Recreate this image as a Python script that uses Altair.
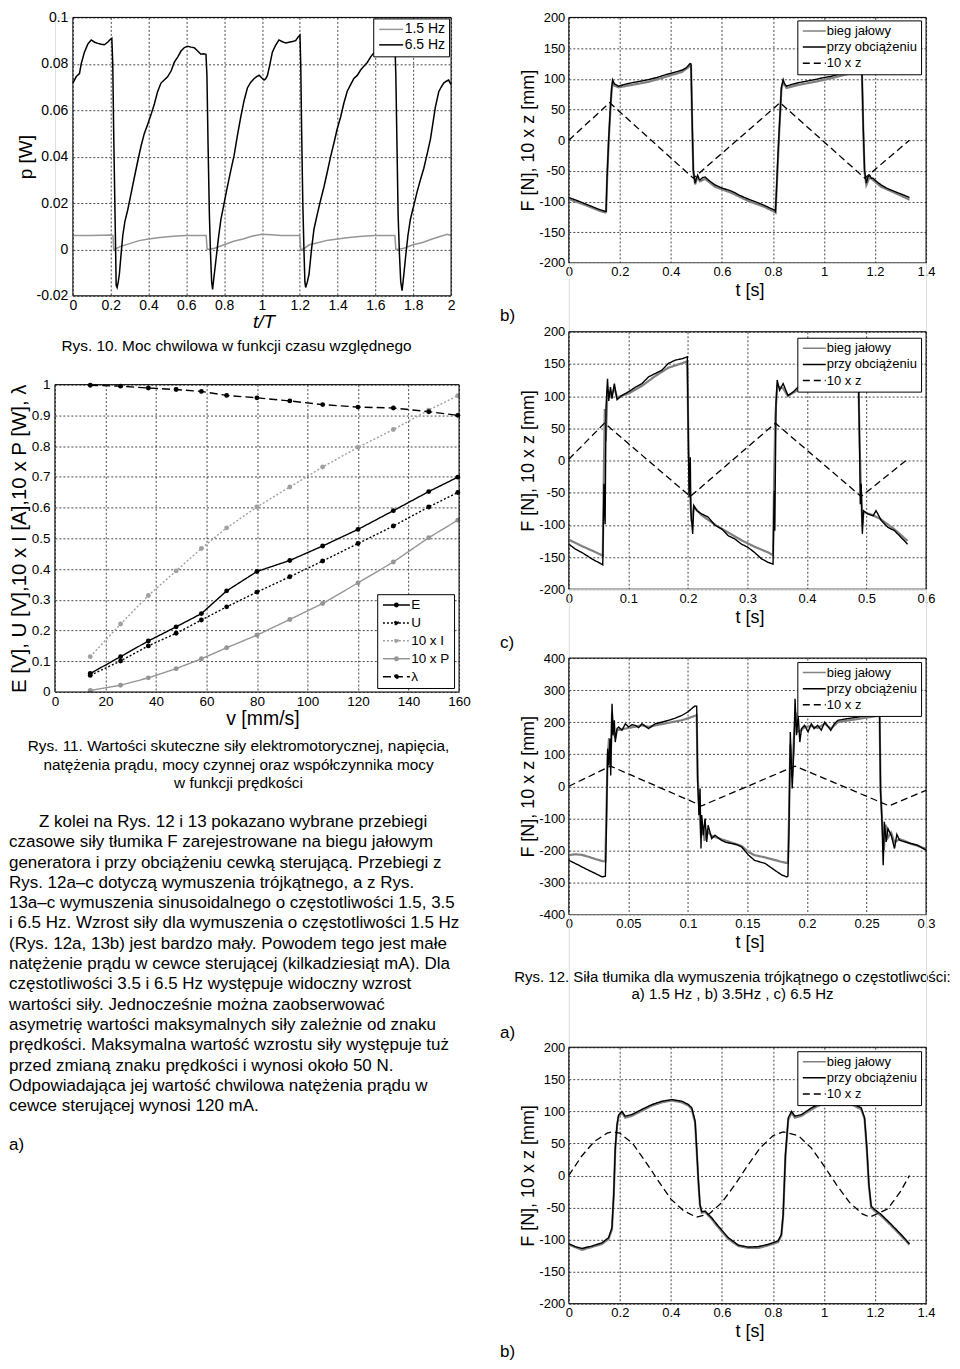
import altair as alt
import pandas as pd

FONT = "Liberation Sans"
GRID_COLOR = "#333333"

# ================= Rys. 10 : p [W] vs t/T =================
P_X_TICKS = [0, 0.2, 0.4, 0.6, 0.8, 1, 1.2, 1.4, 1.6, 1.8, 2]
P_Y_TICKS = [-0.02, 0, 0.02, 0.04, 0.06, 0.08, 0.1]
P_NAMES = ["1.5 Hz", "6.5 Hz"]
P_COLORS = ["#969696", "#000000"]
P_15HZ = [(0.0, 0.006), (0.1, 0.006), (0.2, 0.0062), (0.212, 0.006), (0.216, 0.0), (0.225, 0.0002),
          (0.25, 0.0012), (0.3, 0.0025), (0.35, 0.0038), (0.4, 0.0045), (0.45, 0.005), (0.5, 0.0055),
          (0.55, 0.0058), (0.6, 0.006), (0.65, 0.006), (0.705, 0.006), (0.71, 0.0), (0.73, 0.0002),
          (0.75, 0.0005), (0.8, 0.002), (0.85, 0.0035), (0.9, 0.0045), (0.95, 0.0058), (1.0, 0.0065),
          (1.05, 0.0063), (1.1, 0.006), (1.15, 0.006), (1.2, 0.006), (1.205, 0.0), (1.22, 0.0002),
          (1.25, 0.002), (1.3, 0.003), (1.35, 0.004), (1.4, 0.0045), (1.45, 0.005), (1.5, 0.0055),
          (1.55, 0.0058), (1.6, 0.006), (1.65, 0.006), (1.703, 0.006), (1.708, 0.0), (1.73, 0.0002),
          (1.75, 0.0005), (1.8, 0.002), (1.85, 0.003), (1.9, 0.0045), (1.95, 0.0058), (1.98, 0.0065),
          (2.0, 0.006)]
P_65HZ = [(0.0, 0.0717), (0.018, 0.0745), (0.035, 0.0758), (0.044, 0.080), (0.061, 0.085), (0.079, 0.0885),
          (0.097, 0.0903), (0.115, 0.0893), (0.132, 0.0888), (0.15, 0.0884), (0.167, 0.0882), (0.185, 0.0894),
          (0.196, 0.0903), (0.206, 0.0910), (0.211, 0.080), (0.216, 0.050), (0.222, 0.020), (0.226, 0.000),
          (0.229, -0.0155), (0.234, -0.0164), (0.240, -0.0140), (0.246, -0.0106), (0.255, -0.002),
          (0.264, 0.006), (0.275, 0.012), (0.290, 0.017), (0.305, 0.023), (0.325, 0.031), (0.343, 0.038),
          (0.361, 0.0447), (0.378, 0.050), (0.396, 0.054), (0.413, 0.058), (0.431, 0.0627), (0.448, 0.068),
          (0.466, 0.0717), (0.483, 0.0730), (0.501, 0.0744), (0.520, 0.0770), (0.536, 0.0806), (0.555, 0.0830),
          (0.572, 0.0855), (0.590, 0.0870), (0.607, 0.0876), (0.625, 0.0872), (0.642, 0.0869), (0.660, 0.0855),
          (0.677, 0.0841), (0.690, 0.0843), (0.704, 0.0841), (0.709, 0.075), (0.715, 0.045), (0.722, 0.015),
          (0.728, -0.002), (0.734, -0.014), (0.739, -0.0172), (0.746, -0.012), (0.756, -0.005), (0.770, 0.005),
          (0.783, 0.013), (0.800, 0.020), (0.818, 0.0274), (0.835, 0.034), (0.853, 0.0406), (0.870, 0.049),
          (0.888, 0.0571), (0.905, 0.064), (0.923, 0.0696), (0.940, 0.0720), (0.959, 0.0737), (0.972, 0.0745),
          (0.985, 0.0751), (0.998, 0.0740), (1.011, 0.0730), (1.020, 0.0736), (1.029, 0.0750), (1.040, 0.0790),
          (1.055, 0.0850), (1.072, 0.0880), (1.090, 0.0903), (1.108, 0.0895), (1.126, 0.0890), (1.143, 0.0893),
          (1.161, 0.0896), (1.178, 0.0900), (1.193, 0.0917), (1.201, 0.0924), (1.205, 0.080), (1.210, 0.050),
          (1.216, 0.020), (1.222, 0.000), (1.227, -0.014), (1.231, -0.0164), (1.240, -0.014), (1.249, -0.0106),
          (1.262, 0.000), (1.275, 0.0087), (1.292, 0.015), (1.310, 0.0212), (1.328, 0.027), (1.346, 0.0336),
          (1.363, 0.040), (1.381, 0.046), (1.398, 0.052), (1.416, 0.0571), (1.433, 0.063), (1.451, 0.0682),
          (1.469, 0.071), (1.486, 0.0737), (1.504, 0.075), (1.521, 0.0772), (1.539, 0.079), (1.557, 0.0806),
          (1.575, 0.083), (1.592, 0.0848), (1.610, 0.086), (1.627, 0.087), (1.650, 0.088), (1.675, 0.089),
          (1.695, 0.090), (1.703, 0.089), (1.708, 0.075), (1.714, 0.045), (1.720, 0.015), (1.727, -0.002),
          (1.734, -0.014), (1.741, -0.0178), (1.750, -0.011), (1.759, -0.0037), (1.772, 0.006), (1.785, 0.013),
          (1.803, 0.019), (1.821, 0.025), (1.838, 0.030), (1.856, 0.035), (1.873, 0.041), (1.891, 0.0475),
          (1.905, 0.055), (1.917, 0.0613), (1.935, 0.068), (1.948, 0.070), (1.961, 0.0717), (1.975, 0.0725),
          (1.987, 0.0730), (2.0, 0.0710)]

# ================= Rys. 11 : RMS values vs speed =================
V_X_TICKS = [0, 20, 40, 60, 80, 100, 120, 140, 160]
V_Y_TICKS = [0, 0.1, 0.2, 0.3, 0.4, 0.5, 0.6, 0.7, 0.8, 0.9, 1]
V_SPEED = [14, 26, 37, 48, 58, 68, 80, 93, 106, 120, 134, 148, 159.5]
V_E = [0.06, 0.115, 0.166, 0.212, 0.255, 0.329, 0.392, 0.428, 0.475, 0.529, 0.59, 0.652, 0.699]
V_U = [0.054, 0.101, 0.15, 0.191, 0.234, 0.277, 0.325, 0.375, 0.426, 0.483, 0.54, 0.602, 0.649]
V_I10 = [0.115, 0.221, 0.314, 0.394, 0.467, 0.534, 0.602, 0.667, 0.732, 0.796, 0.854, 0.917, 0.964]
V_P10 = [0.005, 0.022, 0.046, 0.076, 0.108, 0.144, 0.185, 0.236, 0.288, 0.355, 0.423, 0.502, 0.559]
V_LAMBDA = [0.998, 0.995, 0.989, 0.984, 0.978, 0.965, 0.957, 0.947, 0.935, 0.927, 0.924, 0.912, 0.9]
V_NAMES = ["E", "U", "10 x I", "10 x P", "λ"]
V_COLORS = ["#000000", "#000000", "#a0a0a0", "#959595", "#000000"]
V_DASH = [[1, 0], [2, 2], [2, 2], [1, 0], [8, 4]]

# ================= Rys. 12 / 13 : damper force =================
F_NAMES = ["bieg jałowy", "przy obciążeniu", "10 x z"]
F_COLORS = ["#808080", "#000000", "#000000"]
F_DASH = [[1, 0], [1, 0], [7, 4]]
F_Y_TICKS = [-200, -150, -100, -50, 0, 50, 100, 150, 200]
F_Y_TICKS_C = [-400, -300, -200, -100, 0, 100, 200, 300, 400]
T_TICKS_14 = [0, 0.2, 0.4, 0.6, 0.8, 1, 1.2, 1.4]
T_TICKS_06 = [0, 0.1, 0.2, 0.3, 0.4, 0.5, 0.6]
T_TICKS_03 = [0, 0.05, 0.1, 0.15, 0.2, 0.25, 0.3]

A_LOAD = [(0, -93.5), (0.03, -98), (0.06, -103), (0.09, -108), (0.12, -113), (0.143, -116), (0.146, -116),
          (0.150, -60), (0.156, 0), (0.163, 54), (0.168, 85), (0.172, 98), (0.178, 92), (0.182, 91),
          (0.195, 88), (0.22, 91), (0.247, 93.5), (0.28, 96), (0.313, 98.7), (0.345, 102), (0.378, 106.5),
          (0.41, 110), (0.443, 114), (0.46, 118), (0.469, 122), (0.475, 124.7), (0.479, 124), (0.484, 20),
          (0.488, -49), (0.495, -70), (0.500, -62), (0.505, -57), (0.51, -63), (0.514, -65), (0.524, -61),
          (0.534, -60), (0.55, -66), (0.573, -73), (0.6, -78), (0.638, -83), (0.67, -90), (0.703, -96),
          (0.735, -101), (0.768, -106.5), (0.79, -111), (0.807, -114), (0.81, -116), (0.814, -80),
          (0.819, -30), (0.824, 13), (0.83, 60), (0.833, 86), (0.84, 98.7), (0.845, 92), (0.853, 88),
          (0.875, 91), (0.899, 93.5), (0.93, 96), (0.964, 98.7), (1.0, 102), (1.029, 104), (1.06, 108),
          (1.094, 111.7), (1.12, 115), (1.133, 117), (1.146, 119.5), (1.149, 110), (1.154, 20), (1.159, -49),
          (1.166, -70), (1.172, -60), (1.179, -57), (1.185, -62), (1.192, -62), (1.205, -67), (1.224, -73),
          (1.25, -79), (1.289, -85.7), (1.31, -89), (1.335, -93.5)]
A_IDLE = [(0, -96), (0.06, -105), (0.12, -115), (0.143, -118), (0.146, -117), (0.15, -64), (0.156, -5),
          (0.163, 50), (0.168, 82), (0.172, 95), (0.178, 89), (0.195, 86), (0.247, 90), (0.313, 95),
          (0.378, 103), (0.443, 111), (0.469, 119), (0.475, 122), (0.479, 121), (0.484, 15), (0.488, -52),
          (0.495, -72), (0.505, -60), (0.514, -67), (0.534, -63), (0.573, -76), (0.638, -86), (0.703, -99),
          (0.768, -109), (0.807, -117), (0.81, -118), (0.814, -84), (0.824, 8), (0.833, 82), (0.84, 95),
          (0.853, 85), (0.899, 90), (0.964, 95), (1.029, 101), (1.094, 108), (1.133, 114), (1.146, 117),
          (1.149, 105), (1.154, 15), (1.159, -52), (1.166, -73), (1.179, -60), (1.192, -65), (1.224, -76),
          (1.289, -88), (1.335, -97)]
A_Z = [(0, 0), (0.16, 61), (0.488, -62), (0.828, 61), (1.16, -62), (1.335, 0)]

B_LOAD = [(0, -130), (0.011, -137.7), (0.022, -143), (0.039, -153), (0.053, -160), (0.057, -162),
          (0.059, -36), (0.061, -99), (0.0625, 83), (0.065, 127), (0.067, 92.5), (0.07, 114), (0.0725, 96),
          (0.0765, 119.5), (0.081, 94.5), (0.089, 101), (0.1, 106.5), (0.112, 114), (0.123, 119.5),
          (0.134, 130), (0.145, 135), (0.156, 140), (0.167, 150.6), (0.179, 156), (0.19, 158), (0.199, 161),
          (0.201, 15.6), (0.202, -57), (0.204, 5), (0.205, -78), (0.208, -114), (0.21, -70), (0.215, -78),
          (0.223, -83), (0.234, -88), (0.246, -101), (0.257, -106.5), (0.268, -117), (0.279, -122),
          (0.29, -130), (0.301, -135), (0.312, -143), (0.324, -153), (0.335, -158.5), (0.343, -161),
          (0.345, -47), (0.346, -109), (0.348, 88), (0.35, 125), (0.354, 109), (0.36, 119.5), (0.368, 101),
          (0.377, 106.5), (0.385, 114), (0.4, 120), (0.42, 128), (0.44, 136), (0.46, 144), (0.475, 150),
          (0.486, 155), (0.4885, 15.6), (0.4895, -68), (0.491, -36), (0.493, -114), (0.495, -78),
          (0.502, -83), (0.511, -86), (0.516, -78), (0.525, -93.5), (0.536, -104), (0.547, -109),
          (0.558, -119.5), (0.569, -130)]
B_IDLE = [(0, -123), (0.011, -128), (0.022, -133), (0.039, -140), (0.053, -146), (0.057, -148), (0.059, -10),
          (0.0605, 80), (0.062, 30), (0.065, 110), (0.07, 100), (0.0765, 112), (0.081, 98), (0.1, 104),
          (0.123, 116), (0.145, 131), (0.167, 144), (0.19, 151), (0.199, 154), (0.201, 20), (0.203, -40),
          (0.206, -95), (0.21, -72), (0.223, -85), (0.246, -100), (0.268, -112), (0.29, -124), (0.312, -134),
          (0.335, -143), (0.343, -147), (0.345, -20), (0.347, 70), (0.35, 115), (0.36, 112), (0.368, 100),
          (0.385, 110), (0.44, 132), (0.486, 150), (0.4885, 20), (0.4905, -40), (0.493, -100), (0.495, -80),
          (0.511, -85), (0.525, -92), (0.547, -107), (0.569, -125)]
B_Z = [(0, 2), (0.06, 58), (0.204, -56), (0.347, 58), (0.491, -56), (0.569, 2)]

C_LOAD = [(0, -231), (0.0056, -241), (0.011, -251.5), (0.0167, -262), (0.0223, -272), (0.028, -282.6),
          (0.0307, -280.5), (0.0315, -142), (0.0326, 117), (0.0335, 65), (0.0346, 148.5), (0.0352, 34),
          (0.0363, 257.6), (0.0371, 159), (0.0382, 205.7), (0.039, 138), (0.0405, 180), (0.0419, 185),
          (0.0446, 174.5), (0.0475, 195), (0.0502, 185), (0.053, 192), (0.0558, 190), (0.0586, 183),
          (0.0614, 195), (0.064, 188), (0.067, 180), (0.0725, 195), (0.078, 200), (0.0837, 205.7),
          (0.089, 212), (0.0949, 221), (0.1, 232), (0.104, 245), (0.106, 250.4), (0.1074, 250),
          (0.1082, 13.5), (0.1093, -90), (0.1102, -7), (0.111, -194), (0.1116, -90), (0.113, -152.6),
          (0.1144, -100.8), (0.1158, -173.5), (0.117, -121.6), (0.12, -163), (0.1228, -152.6), (0.128, -168),
          (0.132, -175), (0.137, -178.7), (0.141, -182), (0.145, -189), (0.151, -215), (0.156, -231),
          (0.165, -241), (0.173, -262), (0.179, -277), (0.183, -282.6), (0.184, -280), (0.1848, -152.6),
          (0.186, 169), (0.1876, -7), (0.189, 117), (0.19, 273), (0.1912, 159), (0.1926, 221), (0.194, 138),
          (0.1954, 180), (0.198, 190), (0.2009, 170), (0.2037, 195), (0.206, 180), (0.209, 190),
          (0.212, 175), (0.2149, 200), (0.218, 185), (0.22, 174.5), (0.223, 195), (0.226, 205.7),
          (0.234, 211), (0.243, 216), (0.251, 221), (0.261, 226.5), (0.2618, -17.7), (0.263, -111),
          (0.264, -246), (0.265, -111), (0.2665, -173.5), (0.268, -132), (0.2707, -152.6), (0.2735, -194),
          (0.2755, -150), (0.2777, -168), (0.282, -173.5), (0.2875, -178.7), (0.293, -184), (0.3, -199.5)]
C_IDLE = [(0, -215), (0.005, -212), (0.011, -214), (0.0167, -220), (0.0223, -227), (0.028, -233),
          (0.0307, -235), (0.0315, -100), (0.0326, 90), (0.0338, 150), (0.035, 60), (0.0363, 230),
          (0.0375, 170), (0.039, 150), (0.0405, 175), (0.0446, 178), (0.0502, 182), (0.0558, 186),
          (0.0614, 190), (0.067, 185), (0.0725, 190), (0.0837, 198), (0.0949, 206), (0.1, 212), (0.106, 220),
          (0.1074, 222), (0.1082, 30), (0.1095, -60), (0.111, -160), (0.1125, -120), (0.114, -170),
          (0.116, -140), (0.12, -155), (0.128, -165), (0.137, -176), (0.145, -186), (0.151, -205),
          (0.156, -215), (0.165, -222), (0.173, -230), (0.179, -236), (0.184, -240), (0.1848, -120),
          (0.186, 130), (0.1876, 30), (0.189, 150), (0.1905, 230), (0.192, 170), (0.1954, 175), (0.198, 185),
          (0.2037, 188), (0.209, 182), (0.2149, 195), (0.22, 180), (0.226, 200), (0.234, 205), (0.243, 210),
          (0.251, 215), (0.261, 220), (0.2618, -10), (0.263, -100), (0.2645, -200), (0.266, -120),
          (0.268, -160), (0.2707, -145), (0.2735, -175), (0.2777, -165), (0.282, -170), (0.2875, -180),
          (0.293, -186), (0.3, -195)]
C_Z = [(0, 0), (0.035, 63), (0.1116, -61), (0.19, 63), (0.269, -61), (0.3, -12.5)]

S_LOAD = [(0, -106.5), (0.026, -111), (0.052, -113.8), (0.091, -110), (0.13, -105), (0.156, -97),
          (0.169, -81.6), (0.176, -29.6), (0.182, 43), (0.189, 79.5), (0.195, 94), (0.208, 100),
          (0.221, 92.5), (0.247, 95), (0.286, 103), (0.326, 110.6), (0.365, 115.8), (0.404, 118.4),
          (0.443, 115.8), (0.469, 110.6), (0.482, 105.5), (0.495, 84.7), (0.501, 43), (0.508, -9),
          (0.514, -45), (0.521, -56.6), (0.534, -55.6), (0.56, -66), (0.586, -79), (0.625, -97),
          (0.664, -108.6), (0.703, -111.7), (0.742, -111), (0.781, -107.5), (0.82, -102), (0.833, -92),
          (0.84, -60.8), (0.849, 32.7), (0.86, 89.9), (0.873, 100), (0.886, 92.5), (0.912, 95),
          (0.951, 105.5), (0.99, 113), (1.029, 114), (1.068, 113), (1.107, 113), (1.146, 105.5), (1.159, 90),
          (1.168, 43), (1.176, -14), (1.185, -47.8), (1.198, -53), (1.224, -60.8), (1.263, -76),
          (1.302, -92), (1.335, -106.5)]
S_IDLE = [(0, -108), (0.052, -116), (0.13, -107), (0.156, -99), (0.169, -84), (0.176, -33), (0.182, 40),
          (0.189, 77), (0.195, 92), (0.208, 98), (0.221, 90), (0.247, 93), (0.286, 101), (0.326, 109),
          (0.365, 114), (0.404, 117), (0.443, 114), (0.469, 109), (0.482, 103), (0.495, 82), (0.501, 40),
          (0.508, -12), (0.514, -47), (0.521, -58), (0.534, -57), (0.56, -68), (0.586, -81), (0.625, -99),
          (0.664, -110), (0.703, -113), (0.742, -113), (0.781, -109), (0.82, -104), (0.833, -94), (0.84, -63),
          (0.849, 30), (0.86, 87), (0.873, 98), (0.886, 90), (0.912, 93), (0.951, 103), (0.99, 111),
          (1.029, 112), (1.068, 111), (1.107, 111), (1.146, 103), (1.159, 88), (1.168, 40), (1.176, -16),
          (1.185, -50), (1.198, -55), (1.224, -63), (1.263, -78), (1.302, -94), (1.335, -108)]
S_Z = [(0, 0), (0.05, 30), (0.1, 53), (0.15, 66), (0.17, 68), (0.2, 66), (0.25, 50), (0.3, 22), (0.35, -8),
       (0.4, -37), (0.45, -55), (0.5, -65), (0.55, -60), (0.6, -42), (0.65, -15), (0.7, 15), (0.75, 43),
       (0.8, 62), (0.84, 68), (0.9, 62), (0.95, 43), (1.0, 15), (1.05, -15), (1.1, -42), (1.15, -60),
       (1.18, -65), (1.25, -52), (1.3, -25), (1.335, 0)]

# ================= texts =================
CAP_10 = "Rys. 10. Moc chwilowa w funkcji czasu względnego"
CAP_11 = ["Rys. 11. Wartości skuteczne siły elektromotorycznej, napięcia,",
          "natężenia prądu, mocy czynnej  oraz współczynnika mocy",
          "w funkcji prędkości"]
PARAGRAPH = ["Z kolei na Rys. 12 i 13 pokazano wybrane przebiegi",
             "czasowe siły tłumika F zarejestrowane na biegu jałowym",
             "generatora i przy obciążeniu cewką sterującą. Przebiegi z",
             "Rys. 12a–c dotyczą wymuszenia trójkątnego, a z Rys.",
             "13a–c wymuszenia sinusoidalnego o częstotliwości 1.5, 3.5",
             "i 6.5 Hz. Wzrost siły dla wymuszenia o częstotliwości 1.5 Hz",
             "(Rys. 12a, 13b) jest bardzo mały. Powodem tego jest małe",
             "natężenie prądu w cewce sterującej (kilkadziesiąt mA). Dla",
             "częstotliwości 3.5  i 6.5 Hz występuje widoczny wzrost",
             "wartości siły.  Jednocześnie można zaobserwować",
             "asymetrię wartości maksymalnych siły zależnie od znaku",
             "prędkości. Maksymalna wartość wzrostu siły występuje tuż",
             "przed zmianą znaku prędkości  i wynosi około 50 N.",
             "Odpowiadająca jej wartość chwilowa natężenia prądu w",
             "cewce sterującej wynosi 120 mA."]
CAP_12 = ["Rys. 12. Siła tłumika dla wymuszenia trójkątnego o częstotliwości:",
          "a) 1.5 Hz , b) 3.5Hz , c) 6.5 Hz"]

ONE = pd.DataFrame({"k": [0]})


def pairs_df(pairs, name):
    return pd.DataFrame({"x": [p[0] for p in pairs], "y": [p[1] for p in pairs], "s": name})


def mk_axis(values, title, label_size, title_size, label_pad, title_x, title_y, vertical,
            offset=None, title_style="normal"):
    kw = dict(values=values, tickCount=len(values) + 2, title=title, labelExpr="'' + datum.value",
              labelFontSize=label_size, titleFontSize=title_size, labelPadding=label_pad, titleX=title_x,
              titleY=title_y, titleBaseline="middle", titleAngle=270 if vertical else 0,
              titleFontStyle=title_style, grid=True, gridColor=GRID_COLOR, gridDash=[2, 2], gridWidth=0.9,
              ticks=False, tickSize=0, domain=False, labelFlush=False, labelOverlap=False, labelFont=FONT,
              titleFont=FONT, labelColor="black", titleColor="black", titleFontWeight="normal")
    if offset is not None:
        kw["offset"] = offset
    return alt.Axis(**kw)


def frame(x0, x1, y0, y1):
    return alt.Chart(ONE).mark_rect(fill="transparent", stroke="black", strokeWidth=1).encode(
        x=alt.datum(x0), x2=alt.datum(x1), y=alt.datum(y0), y2=alt.datum(y1))


def txt(s, x, y, size, align="left", style="normal"):
    return alt.Chart(ONE).mark_text(text=s, align=align, baseline="middle", font=FONT, fontSize=size,
                                    fontStyle=style, color="black").encode(x=alt.value(x), y=alt.value(y))


SYM_S = 10.0  # legend symbol nominal size (px)


def legend(x, y, size, pad, row_pad, line_len, dot=False, expr=None):
    k = line_len / SYM_S
    path = f"M{-k:.3f},0H{k:.3f}"
    if dot:
        path += " M-0.35,0A0.35,0.35 0 1,1 0.35,0A0.35,0.35 0 1,1 -0.35,0Z"
    kw = dict(orient="none", legendX=x, legendY=y, title=None, direction="vertical", fillColor="white",
              strokeColor="black", padding=pad, cornerRadius=0, symbolType=path, symbolSize=SYM_S ** 2,
              symbolStrokeWidth=1.5, symbolOffset=line_len / 2 - SYM_S / 2,
              labelFont=FONT, labelFontSize=size, labelColor="black",
              labelOffset=line_len / 2 - 5.5, rowPadding=row_pad, labelLimit=300)
    if expr:
        kw["labelExpr"] = expr
    return alt.Legend(**kw)


def indep(c):
    return c.resolve_scale(color="independent", strokeDash="independent").resolve_legend(
        color="independent", strokeDash="independent")


# ---------------- chart 1 ----------------
H1 = 279
xs1 = alt.Scale(domain=[0, 2], range=[18, 397], nice=False, zero=False)
ys1 = alt.Scale(domain=[-0.02, 0.1], nice=False, zero=False)
ax1x = mk_axis(P_X_TICKS, "t/T", 14, 19, 3, 209, 26, False, title_style="italic")
ax1y = mk_axis(P_Y_TICKS, "p [W]", 14, 19, 5, -47, H1 / 2, True, offset=-18)
leg1 = legend(319, 1, 14, 4, 1.5, 24)
col1 = alt.Color("s:N", scale=alt.Scale(domain=P_NAMES, range=P_COLORS), legend=leg1)


def p_layer(pairs, name):
    return alt.Chart(pairs_df(pairs, name)).mark_line(strokeWidth=1.5).encode(
        x=alt.X("x:Q", scale=xs1, axis=ax1x), y=alt.Y("y:Q", scale=ys1, axis=ax1y), color=col1)


chart1 = alt.layer(
    p_layer(P_15HZ, P_NAMES[0]), p_layer(P_65HZ, P_NAMES[1]), frame(0, 2, -0.02, 0.1),
    txt(CAP_10, 182, 329.5, 15.4, align="center"),
).properties(width=397, height=H1)

# ---------------- chart 2 ----------------
H2 = 308
rows = []
for name, vals in zip(V_NAMES, [V_E, V_U, V_I10, V_P10, V_LAMBDA]):
    for v, y in zip(V_SPEED, vals):
        rows.append({"x": v, "y": y, "s": name})
df2 = pd.DataFrame(rows)
leg2 = legend(323, 210, 13.5, 4, 3, 27, dot=True, expr="datum.label + '\u00a0\u00a0\u00a0\u00a0'")
lines2 = alt.Chart(df2).mark_line(strokeWidth=1.4, point=alt.OverlayMarkDef(filled=True, size=24)).encode(
    x=alt.X("x:Q", scale=alt.Scale(domain=[0, 160], nice=False, zero=False),
            axis=mk_axis(V_X_TICKS, "v [mm/s]", 13.5, 19.5, 3, 208, 27, False)),
    y=alt.Y("y:Q", scale=alt.Scale(domain=[0, 1], nice=False, zero=False),
            axis=mk_axis(V_Y_TICKS, "E [V], U [V],10 x I [A],10 x P [W], λ", 13.5, 20.5, 5, -35, H2 / 2, True)),
    color=alt.Color("s:N", scale=alt.Scale(domain=V_NAMES, range=V_COLORS), legend=leg2),
    strokeDash=alt.StrokeDash("s:N", scale=alt.Scale(domain=V_NAMES, range=V_DASH), legend=leg2),
)
texts2 = [txt(CAP_11[i], 184, 362.2 + 18.6 * i, 15.4, align="center") for i in range(3)]
texts2 += [txt(PARAGRAPH[0], -16, 438.2, 17)]
texts2 += [txt(PARAGRAPH[i], -46, 438.2 + 20.35 * i, 17) for i in range(1, len(PARAGRAPH))]
texts2 += [txt("a)", -46, 762, 17)]
chart2 = alt.layer(lines2, frame(0, 160, 0, 1), *texts2).properties(width=405, height=H2)


# ---------------- force charts ----------------
def force_chart(idle, load, z, t_ticks, t_max, f_ticks, f_lim, height, leg_y, extra):
    xs = alt.Scale(domain=[0, t_max], nice=False, zero=False)
    ys = alt.Scale(domain=[-f_lim, f_lim], nice=False, zero=False)
    xax = mk_axis(t_ticks, "t [s]", 13, 18, 3, 181, 28, False)
    yax = mk_axis(f_ticks, "F [N], 10 x z [mm]", 13, 18, 4, -40, height / 2, True)
    leg = legend(229, leg_y, 13, 4, 2.2, 23)
    color = alt.Color("s:N", scale=alt.Scale(domain=F_NAMES, range=F_COLORS), legend=leg)
    dash = alt.StrokeDash("s:N", scale=alt.Scale(domain=F_NAMES, range=F_DASH), legend=leg)

    def lay(pairs, name, w):
        return alt.Chart(pairs_df(pairs, name)).mark_line(strokeWidth=w).encode(
            x=alt.X("x:Q", scale=xs, axis=xax), y=alt.Y("y:Q", scale=ys, axis=yax),
            color=color, strokeDash=dash)

    return alt.layer(lay(idle, F_NAMES[0], 2.2), lay(load, F_NAMES[1], 1.4), lay(z, F_NAMES[2], 1.3),
                     frame(0, t_max, -f_lim, f_lim), *extra).properties(width=358, height=height)


def spacer(h):
    return alt.Chart(ONE).mark_text(text=" ").encode(x=alt.value(0), y=alt.value(0)).properties(
        width=358, height=h)


c12a = force_chart(A_IDLE, A_LOAD, A_Z, T_TICKS_14, 1.4, F_Y_TICKS, 200, 246, 3,
                   [txt("b)", -69, 299, 17)])
c12b = force_chart(B_IDLE, B_LOAD, B_Z, T_TICKS_06, 0.6, F_Y_TICKS, 200, 258, 6,
                   [txt("c)", -69, 312, 17)])
c12c = force_chart(C_IDLE, C_LOAD, C_Z, T_TICKS_03, 0.3, F_Y_TICKS_C, 400, 257, 4,
                   [txt(CAP_12[0], 164, 319.2, 15, align="center"),
                    txt(CAP_12[1], 164, 336.5, 15, align="center")])
c13a = force_chart(S_IDLE, S_LOAD, S_Z, T_TICKS_14, 1.4, F_Y_TICKS, 200, 257, 4,
                   [txt("a)", -69, -14, 17), txt("b)", -69, 305, 17)])

left = indep(alt.vconcat(chart1, chart2, spacing=89, bounds="flush"))
right = indep(alt.vconcat(c12a, spacer(69), c12b, spacer(69), c12c, spacer(133), c13a, spacing=0,
                          bounds="flush"))

chart = indep(alt.hconcat(left, right, spacing=28)).properties(padding=0).configure_view(
    stroke=None).configure(font=FONT)

chart.save("out.html", embed_options={"renderer": "svg", "actions": False})
